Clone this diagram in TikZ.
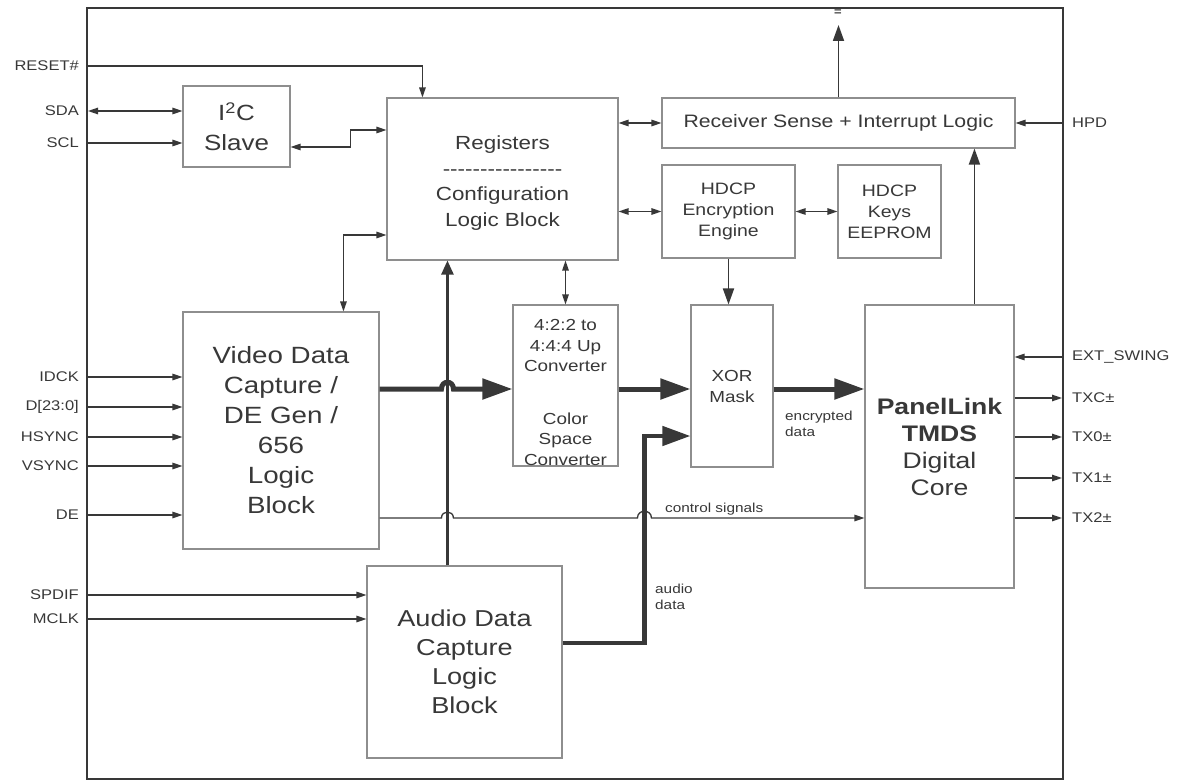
\documentclass[tikz,border=0pt]{standalone}
\usepackage{fontspec}
\setmainfont{Liberation Sans}[FakeStretch=1.18]
\usetikzlibrary{arrows.meta,calc}
\definecolor{ink}{HTML}{383838}
\definecolor{boxc}{HTML}{8E8E8E}
\newcommand\dashrow{\foreach\i in {1,...,16}{-\kern0pt}}
\begin{document}
\begin{tikzpicture}[x=1pt,y=-1pt,
  box/.style={draw=boxc, line width=1.1pt, inner sep=0pt, align=center, text=ink},
  pinl/.style={text=ink, font=\fontsize{14}{16}\selectfont, inner sep=0pt, anchor=east},
  pinr/.style={text=ink, font=\fontsize{14}{16}\selectfont, inner sep=0pt, anchor=west},
  small/.style={text=ink, font=\fontsize{13}{15.5}\selectfont, inner sep=0pt, align=left, anchor=west},
  thinline/.style={draw=ink, line width=1.3pt},
  midline/.style={draw=ink, line width=1.8pt},
  vertline/.style={draw=ink, line width=2.4pt},
  dataline/.style={draw=ink, line width=5pt},
  audioline/.style={draw=ink, line width=4.5pt, line join=miter},
  ta/.tip={Triangle[length=10pt,width=6.5pt]},
  tb/.tip={Triangle[length=16pt,width=11pt]},
  tc/.tip={Triangle[length=14pt,width=12pt]},
  td/.tip={Triangle[length=30pt,width=20pt]},
  te/.tip={Triangle[length=28pt,width=19pt]},
]
\useasboundingbox (0,0) rectangle (1184,781);
\fill[white] (0,0) rectangle (1184,781);

% chip boundary
\draw[draw=ink, line width=2.6pt] (87,8) rectangle (1063,779);
\node[text=ink, font=\fontsize{11}{12}\selectfont\bfseries, inner sep=0pt] (eqmark) at (838,13) {=};

% blocks
\node[box, minimum width=107pt, minimum height=81pt, font=\fontsize{22}{30}\selectfont] (i2c) at (236.5,126.5) {I\textsuperscript{2}C\\Slave};
\node[box, minimum width=231pt, minimum height=162pt, font=\fontsize{19}{25.5}\selectfont] (regs) at (502.5,179) {\rule{0pt}{22pt}Registers\\\dashrow\\Configuration\\Logic Block};
\node[box, minimum width=353pt, minimum height=50pt, font=\fontsize{18}{20}\selectfont] (rcv) at (838.5,123) {Receiver Sense + Interrupt Logic};
\node[box, minimum width=133pt, minimum height=93pt, font=\fontsize{16.5}{21}\selectfont] (enc) at (728.5,211.5) {HDCP\\Encryption\\Engine};
\node[box, minimum width=103pt, minimum height=93pt, font=\fontsize{16.5}{21}\selectfont] (keys) at (889.5,211.5) {HDCP\\Keys\\EEPROM};
\node[box, minimum width=196pt, minimum height=237pt, font=\fontsize{23.5}{30}\selectfont] (vid) at (281,430.5) {Video Data\\Capture /\\DE Gen /\\656\\Logic\\Block};
\node[box, minimum width=105pt, minimum height=161pt, font=\fontsize{16}{20.5}\selectfont] (conv) at (565.5,385.5) {\rule{0pt}{25pt}4:2:2 to\\4:4:4 Up\\Converter\\[32pt]Color\\Space\\Converter};
\node[box, minimum width=82pt, minimum height=162pt, font=\fontsize{16}{21}\selectfont] (xor) at (732,386) {XOR\\Mask};
\node[box, minimum width=149pt, minimum height=283pt, font=\fontsize{22.5}{27}\selectfont] (pl) at (939.5,446.5) {\textbf{PanelLink}\\\textbf{TMDS}\\Digital\\Core};
\node[box, minimum width=195pt, minimum height=192pt, font=\fontsize{23}{29}\selectfont] (aud) at (464.5,662) {Audio Data\\Capture\\Logic\\Block};

% left pin labels and coordinates
\node[pinl] (lrst) at (79,66) {RESET\#};
\node[pinl] (lsda) at (79,111) {SDA};
\node[pinl] (lscl) at (79,143) {SCL};
\node[pinl] (lidck) at (79,377) {IDCK};
\node[pinl] (ldat) at (79,407) {D[23:0]};
\node[pinl] (lhs) at (79,437) {HSYNC};
\node[pinl] (lvs) at (79,466) {VSYNC};
\node[pinl] (lde) at (79,515) {DE};
\node[pinl] (lspdif) at (79,595) {SPDIF};
\node[pinl] (lmclk) at (79,619) {MCLK};
\coordinate (rst) at (88,66);
\coordinate (sda) at (88,111);
\coordinate (scl) at (88,143);
\coordinate (idck) at (88,377);
\coordinate (dat) at (88,407);
\coordinate (hs) at (88,437);
\coordinate (vs) at (88,466);
\coordinate (de) at (88,515);
\coordinate (spdif) at (88,595);
\coordinate (mclk) at (88,619);

% right pin labels and coordinates
\node[pinr] (lhpd) at (1072,123) {HPD};
\node[pinr] (lext) at (1072,357) {EXT\_SWING};
\node[pinr] (ltxc) at (1072,398) {TXC±};
\node[pinr] (ltx0) at (1072,437) {TX0±};
\node[pinr] (ltx1) at (1072,478) {TX1±};
\node[pinr] (ltx2) at (1072,518) {TX2±};
\coordinate (hpd) at (1062,123);
\coordinate (ext) at (1062,357);
\coordinate (txc) at (1062,398);
\coordinate (tx0) at (1062,437);
\coordinate (tx1) at (1062,478);
\coordinate (tx2) at (1062,518);
\coordinate (rcvtop) at (838.5,25);

% left pin connectors
\draw[thinline,-ta] (rst) -| ($(regs.north west)+(36,0)$);
\draw[thinline,ta-ta] (sda) -- (sda -| i2c.west);
\draw[thinline,-ta] (scl) -- (scl -| i2c.west);
\foreach \p in {idck,dat,hs,vs,de}{\draw[thinline,-ta] (\p) -- (\p -| vid.west);}
\draw[thinline,-ta] (spdif) -- (spdif -| aud.west);
\draw[thinline,-ta] (mclk) -- (mclk -| aud.west);

% right pin connectors
\draw[thinline,-ta] (hpd) -- (rcv.east);
\draw[thinline,-ta] (ext) -- (ext -| pl.east);
\foreach \p in {txc,tx0,tx1,tx2}{\draw[thinline,-ta] (\p -| pl.east) -- (\p);}

% internal control connectors
\draw[thinline,ta-ta] ($(i2c.east)+(0,20.5)$) -- ++(60,0) |- ($(regs.west)+(0,-49)$);
\draw[thinline,ta-ta] ($(vid.north west)+(161,0)$) |- ($(regs.west)+(0,56)$);
\draw[thinline,ta-ta] (regs.east |- rcv.west) -- (rcv.west);
\draw[thinline,ta-ta] (regs.east |- enc.west) -- (enc.west);
\draw[thinline,ta-ta] (enc.east) -- (keys.west);
\draw[thinline,ta-ta] (regs.south -| conv.north) -- (conv.north);
\draw[midline,-tb] (rcv.north) -- (rcvtop);
\draw[midline,-tb] ($(pl.north west)+(110,0)$) coordinate (plu) -- (plu |- rcv.south);
\draw[midline,-tb] (enc.south) -- (enc.south |- xor.north);

% vertical audio-to-registers line
\coordinate (vb) at ($(aud.north west)+(81,0)$);
\draw[vertline,-tc] (vb) -- (vb |- regs.south);

% audio data path
\coordinate (abend) at ($(xor.west)+(-46,50)$);
\draw[audioline,-te] ($(aud.east)+(0,-19)$) -| (abend) -- ($(xor.west)+(0,50)$);
\node[small] (laud) at (655,597) {audio\\data};

% main data path
\coordinate (d1) at ($(conv.west)+(0,3.5)$);
\draw[dataline,-td] (vid.east |- d1) -- ($(vb |- d1)+(-6,0)$) .. controls ($(vb |- d1)+(-6,-9)$) and ($(vb |- d1)+(6,-9)$) .. ($(vb |- d1)+(6,0)$) -- (conv.west |- d1);
\draw[dataline,-td] (conv.east |- d1) -- (xor.west |- d1);
\draw[dataline,-td] (xor.east |- d1) -- (pl.west |- d1);
\node[small] (lenc) at (785,424) {encrypted\\data};

% control signals
\coordinate (cs) at ($(pl.west)+(0,71.5)$);
\draw[thinline,-ta] (vid.east |- cs) -- ($(vb |- cs)+(-6,0)$) .. controls ($(vb |- cs)+(-6,-8)$) and ($(vb |- cs)+(6,-8)$) .. ($(vb |- cs)+(6,0)$)
  -- ($(abend |- cs)+(-7,0)$) .. controls ($(abend |- cs)+(-7,-9)$) and ($(abend |- cs)+(7,-9)$) .. ($(abend |- cs)+(7,0)$) -- (cs);
\node[small] (lcs) at (665,509) {control signals};
\end{tikzpicture}
\end{document}
